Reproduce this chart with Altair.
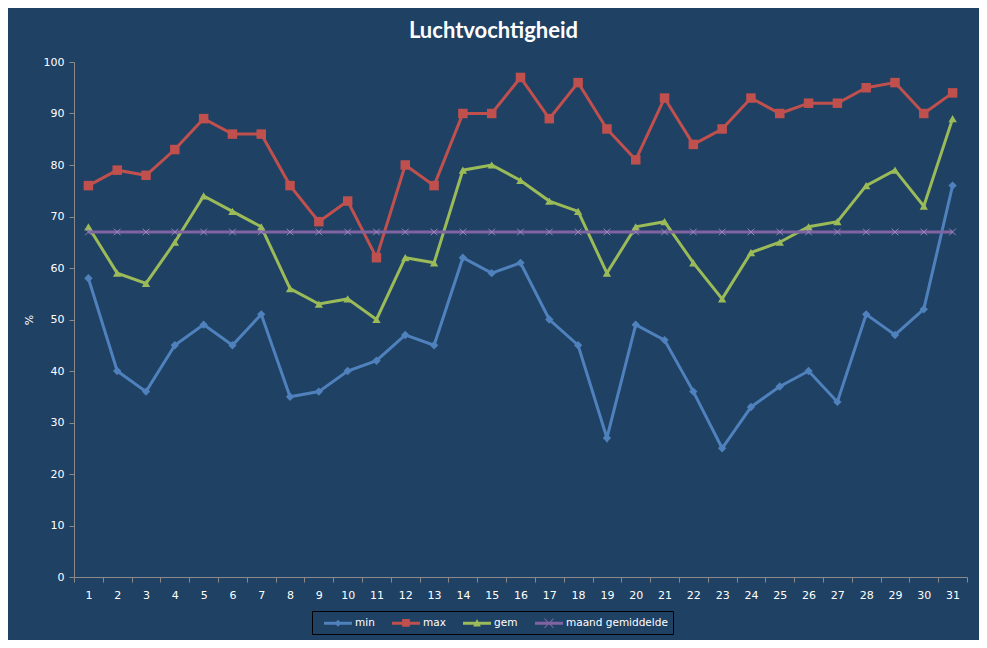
import altair as alt
import pandas as pd

days = list(range(1, 32))
series_names = ["min", "max", "gem", "maand gemiddelde"]
v_min = [58, 40, 36, 45, 49, 45, 51, 35, 36, 40, 42, 47, 45, 62, 59, 61, 50, 45, 27, 49, 46, 36, 25, 33, 37, 40, 34, 51, 47, 52, 76]
v_max = [76, 79, 78, 83, 89, 86, 86, 76, 69, 73, 62, 80, 76, 90, 90, 97, 89, 96, 87, 81, 93, 84, 87, 93, 90, 92, 92, 95, 96, 90, 94]
v_gem = [68, 59, 57, 65, 74, 71, 68, 56, 53, 54, 50, 62, 61, 79, 80, 77, 73, 71, 59, 68, 69, 61, 54, 63, 65, 68, 69, 76, 79, 72, 89]
v_maand = [67] * 31
colors = ["#4F81BD", "#C0504D", "#9BBB59", "#8064A2"]

rows = []
for name, vals in zip(series_names, [v_min, v_max, v_gem, v_maand]):
    for d, v in zip(days, vals):
        rows.append({"dag": d, "serie": name, "waarde": v})
df = pd.DataFrame(rows)

BG = "#1F4164"
AX = "#8A8A8A"
FONT = "DejaVu Sans"

x_enc = alt.X("dag:O", title=None,
              scale=alt.Scale(paddingInner=0, paddingOuter=0),
              axis=alt.Axis(labelAngle=0, tickBand="extent", domainColor=AX, tickColor=AX,
                            tickSize=5, labelColor="white", labelFont=FONT, labelFontSize=11,
                            labelPadding=7, grid=False))
y_enc = alt.Y("waarde:Q", title="%",
              scale=alt.Scale(domain=[0, 100], nice=False),
              axis=alt.Axis(values=list(range(0, 101, 10)), domainColor=AX, tickColor=AX,
                            tickSize=5, labelColor="white", labelFont=FONT, labelFontSize=11,
                            labelPadding=5, grid=False, titleColor="white", titleFont=FONT,
                            titleFontSize=11, titleFontWeight="normal", titlePadding=9))

base = alt.Chart(df)
layers = []
marker_shapes = ["diamond", "square", "triangle-up", None]
marker_sizes = [70, 90, 70, 60]
for name, col, shp, sz in zip(series_names, colors, marker_shapes, marker_sizes):
    sub = base.transform_filter(alt.datum.serie == name)
    layers.append(sub.mark_line(color=col, strokeWidth=3).encode(x=x_enc, y=y_enc))
    if shp is not None:
        layers.append(sub.mark_point(shape=shp, filled=True, opacity=1, color=col, size=sz)
                      .encode(x=x_enc, y=y_enc))
    else:
        layers.append(sub.mark_point(shape="M-1,-1L1,1M-1,1L1,-1", filled=False, opacity=1,
                                     color="#A38BC4", strokeWidth=0.9, size=44)
                      .encode(x=x_enc, y=y_enc))

# legend symbols: a line segment with the marker in the middle (unit radius = 7px)
line_path = "M-2,-0.2H2V0.2H-2Z"
legend_paths = [
    line_path + " M0,-0.5L0.5,0L0,0.5L-0.5,0Z",
    line_path + " M-0.55,-0.6H0.55V0.5H-0.55Z",
    line_path + " M0,-0.6L0.55,0.45H-0.55Z",
    line_path + " M-0.6,-0.7L0.7,0.6L0.6,0.7L-0.7,-0.6Z M0.6,-0.7L0.7,-0.6L-0.6,0.7L-0.7,0.6Z",
]
legend_df = pd.DataFrame({"serie": series_names})
legend_layer = alt.Chart(legend_df).mark_point(filled=True, opacity=1).encode(
    color=alt.Color("serie:N", scale=alt.Scale(domain=series_names, range=colors),
                    legend=alt.Legend(title=None, orient="none", direction="horizontal",
                                      legendX=238, legendY=549,
                                      strokeColor="black", fillColor=BG, padding=5,
                                      symbolSize=196, symbolStrokeWidth=0, symbolOffset=14,
                                      labelColor="white", labelFont=FONT, labelFontSize=10.5,
                                      labelOffset=10, columnPadding=10, symbolOpacity=1)),
    shape=alt.Shape("serie:N", scale=alt.Scale(domain=series_names, range=legend_paths)),
).transform_filter("false")

chart = alt.layer(*layers, legend_layer).properties(
    width=893, height=515,
    title=alt.Title("Luchtvochtigheid", color="white", font="Lato", fontSize=22,
                    fontWeight="bold", anchor="middle", dx=-27, offset=13),
    background=BG,
    padding={"left": 66, "top": 54, "right": 12, "bottom": 63},
    autosize=alt.AutoSizeParams(type="none"),
).configure_view(stroke=None)

chart.save("out.html", embed_options={"renderer": "svg", "actions": False})
